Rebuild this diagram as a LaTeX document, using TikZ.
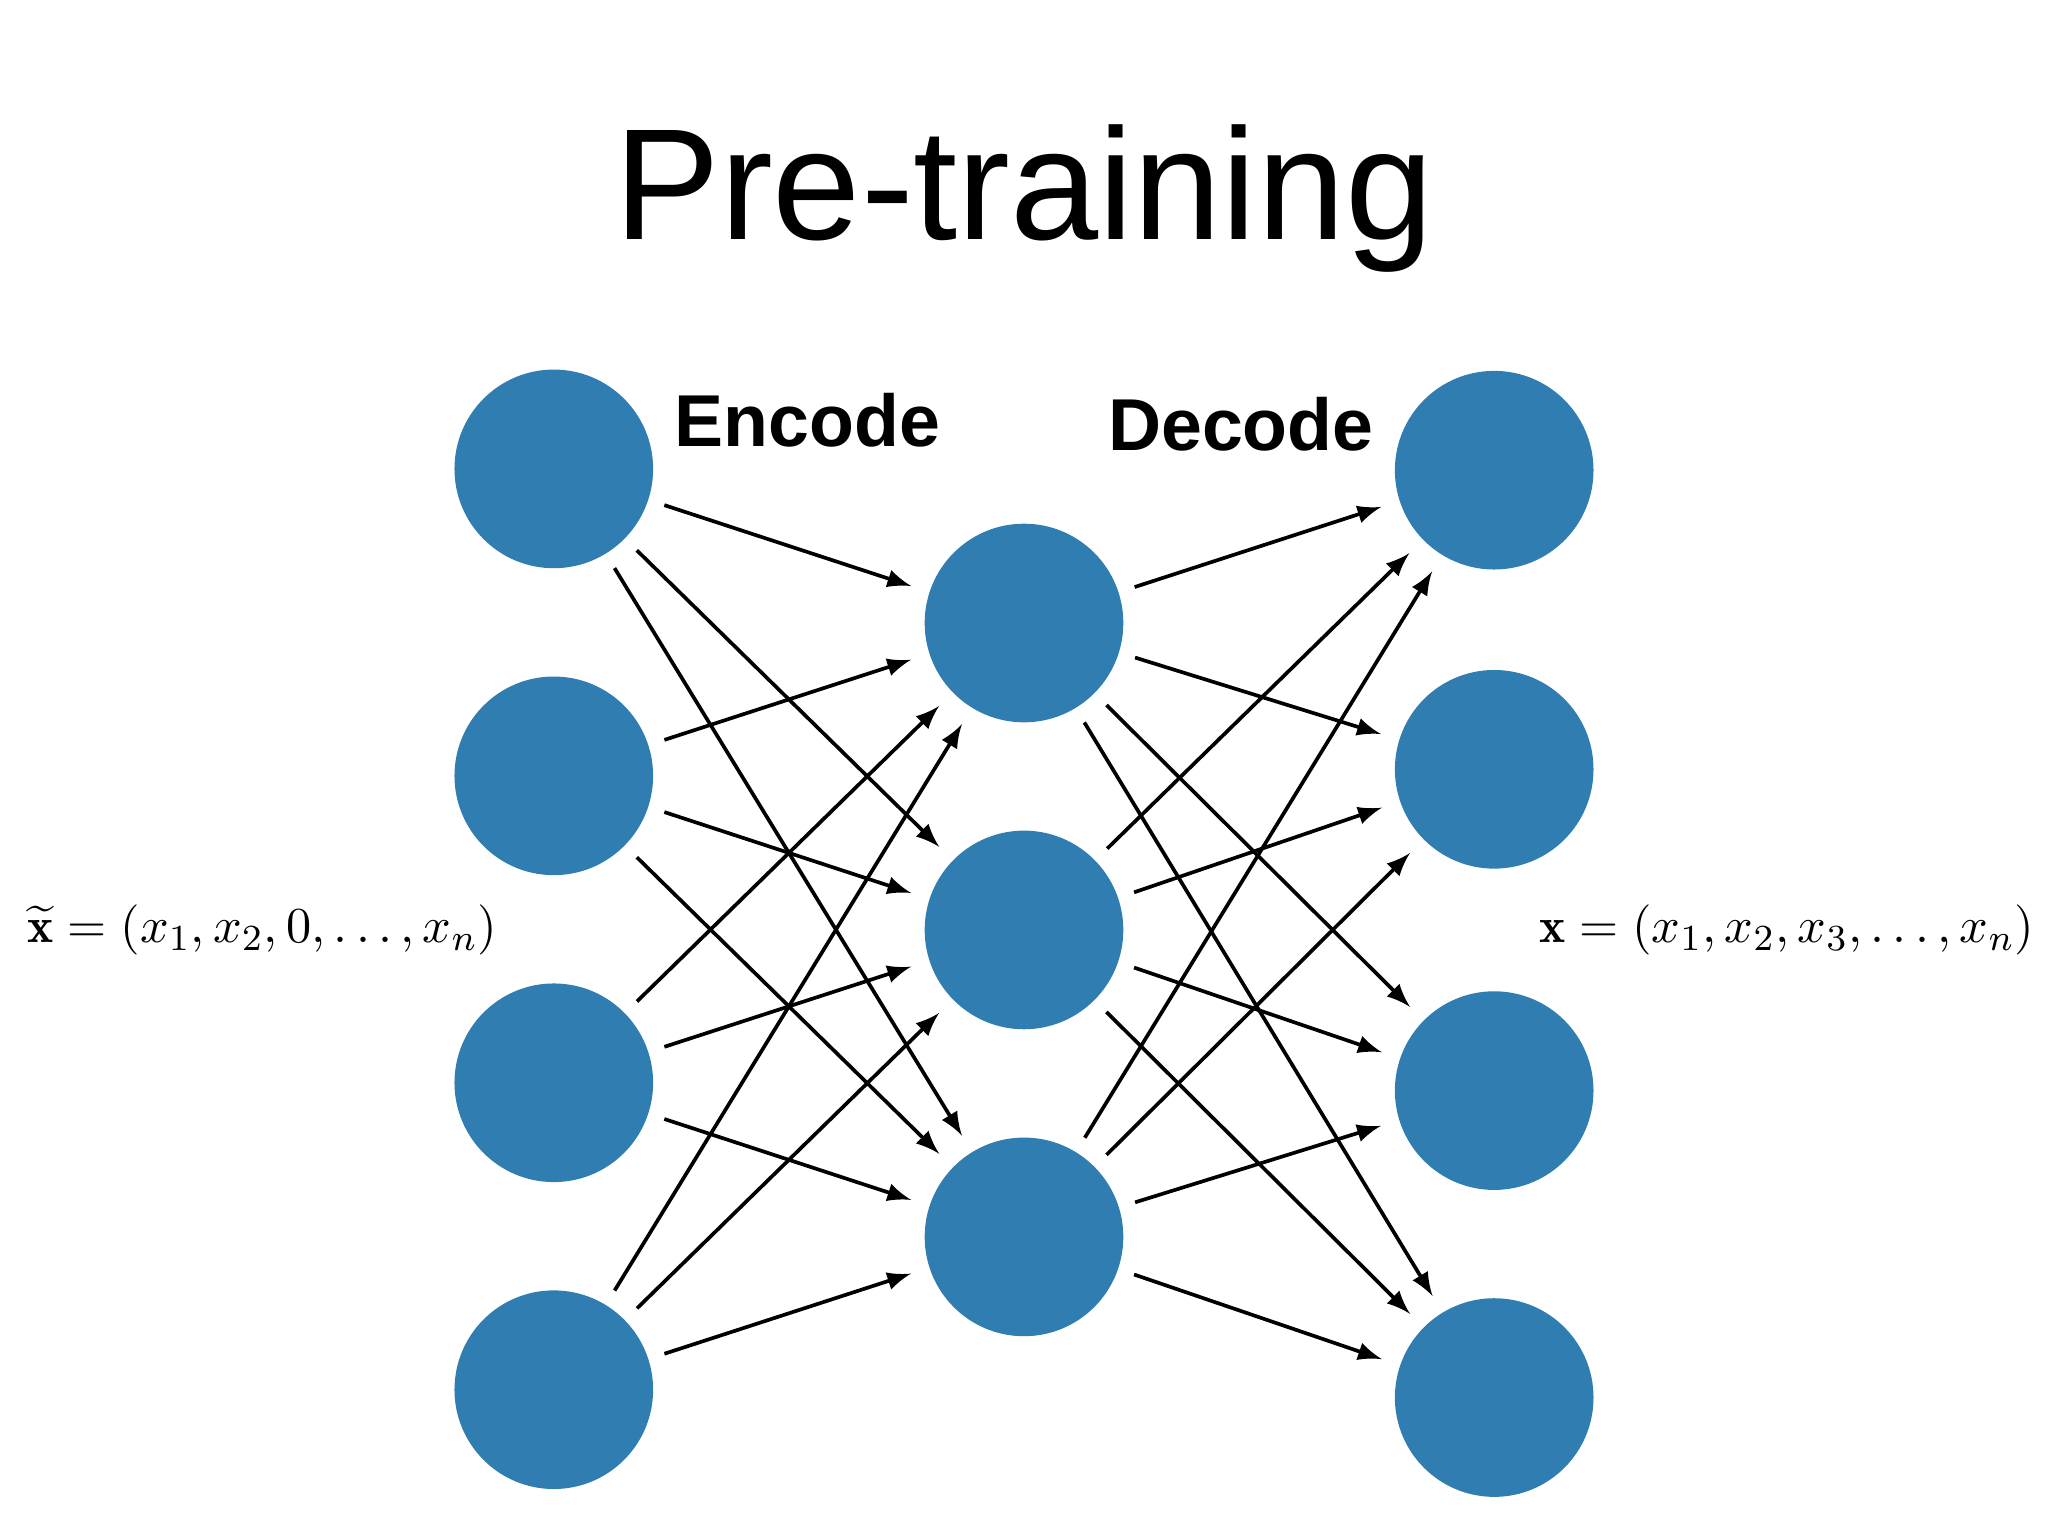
\documentclass[tikz,border=0pt]{standalone}
\usepackage{fontspec}
\usepackage{amsmath}
\newfontfamily\titlefont{Liberation Sans}
\definecolor{nodeblue}{HTML}{2F7DB1}
\begin{document}
\begin{tikzpicture}[x=0.01cm,y=-0.01cm,
  neuron/.style={circle,fill=nodeblue,inner sep=0pt,minimum size=1.52cm},
  conn/.style={-latex,line width=0.8pt,shorten >=4pt,shorten <=3.5pt}]
\useasboundingbox (0,0) rectangle (1568,1176);
\node (title) at (784,152) {\titlefont\fontsize{34.5}{38}\selectfont Pre-training};
\node (enc) at (618,322) {\titlefont\bfseries\fontsize{16}{18}\selectfont Encode};
\node (dec) at (950,325) {\titlefont\bfseries\fontsize{16}{18}\selectfont Decode};
\foreach \i/\y in {1/359,2/594,3/829,4/1064} \node[neuron] (a\i) at (424,\y) {};
\foreach \i/\y in {1/477,2/712,3/947} \node[neuron] (b\i) at (784,\y) {};
\foreach \i/\y in {1/360,2/589,3/835,4/1070} \node[neuron] (c\i) at (1144,\y) {};
\foreach \i in {1,...,4} \foreach \j in {1,2,3} \draw[conn] (a\i) -- (b\j);
\foreach \j in {1,2,3} \foreach \k in {1,...,4} \draw[conn] (b\j) -- (c\k);
\node (xt) at (201,712) {\fontsize{10.8}{13}\selectfont $\widetilde{\mathbf{x}}=(x_1,x_2,0,\ldots,x_n)$};
\node (x) at (1368,712) {\fontsize{10.8}{13}\selectfont $\mathbf{x}=(x_1,x_2,x_3,\ldots,x_n)$};
\end{tikzpicture}
\end{document}
